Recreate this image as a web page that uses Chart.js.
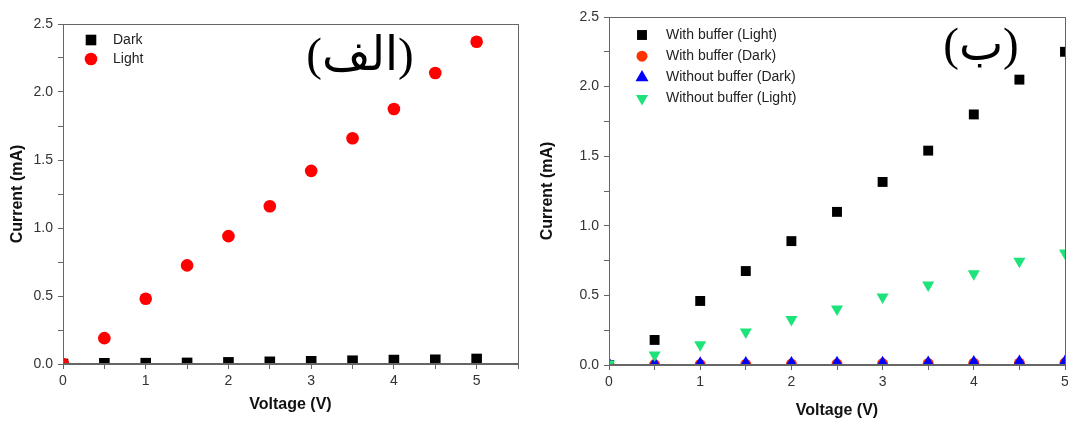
<!DOCTYPE html>
<html>
<head>
<meta charset="utf-8">
<title>Current vs voltage</title>
<script src="https://cdn.jsdelivr.net/npm/chart.js@4.4.1/dist/chart.umd.min.js"></script>
<style>
  html, body { margin: 0; padding: 0; background: #fff; }
  .panel { position: absolute; top: 0; }
  #panel-a { left: 0; }
  #panel-b { left: 530px; }
</style>
</head>
<body>
<div class="panel" id="panel-a"><canvas id="chart-a" width="530" height="421"></canvas></div>
<div class="panel" id="panel-b"><canvas id="chart-b" width="538" height="421"></canvas></div>
<script>
(function () {
  "use strict";

  /* ── Data ──────────────────────────────────── */

  var VOLTAGE = [0, 0.5, 1, 1.5, 2, 2.5, 3, 3.5, 4, 4.5, 5];

  // panel (الف)
  var DARK  = [0, 0.005, 0.006, 0.008, 0.012, 0.016, 0.02, 0.024, 0.029, 0.031, 0.037];
  var LIGHT = [0, 0.19, 0.48, 0.725, 0.94, 1.16, 1.42, 1.66, 1.875, 2.14, 2.37];

  // panel (ب)
  var BUF_LIGHT   = [0, 0.18, 0.46, 0.675, 0.89, 1.10, 1.315, 1.54, 1.80, 2.05, 2.25];
  var BUF_DARK    = [0.001, 0.003, 0.004, 0.005, 0.007, 0.008, 0.01, 0.011, 0.013, 0.014, 0.016];
  var NOBUF_DARK  = [0.004, 0.008, 0.009, 0.01, 0.011, 0.012, 0.013, 0.015, 0.018, 0.021, 0.022];
  var NOBUF_LIGHT = [0.008, 0.072, 0.146, 0.237, 0.326, 0.402, 0.489, 0.575, 0.656, 0.745, 0.805];

  var X_TICK_LABELS = ["0", "1", "2", "3", "4", "5"];
  var Y_TICK_LABELS = ["0.0", "0.5", "1.0", "1.5", "2.0", "2.5"];

  var FONT = "'Liberation Sans', Arial, sans-serif";
  var TAG_FONT = "'Liberation Serif', 'DejaVu Sans', serif";
  var AXIS_COLOR = "#666";

  /* ── Helpers ───────────────────────────────── */

  function pts(ys) {
    return VOLTAGE.map(function (v, i) { return { x: v, y: ys[i] }; });
  }

  function series(label, ys, style, color, radius, rotation) {
    return {
      label: label,
      data: pts(ys),
      showLine: false,
      pointStyle: style,
      pointRadius: radius,
      pointRotation: rotation || 0,
      pointBackgroundColor: color,
      pointBorderWidth: 0,
      backgroundColor: color,
      borderColor: color,
      clip: 0
    };
  }

  // later series paint over earlier ones
  function stackOrder(list) {
    list.forEach(function (ds, i) { ds.order = list.length - i; });
    return list;
  }

  // labels only on the major steps, minor steps keep an empty tick
  function majorLabel(labels, step) {
    return function (v) {
      var k = v / step, i = Math.round(k);
      return Math.abs(k - i) < 1e-6 && labels[i] !== undefined ? labels[i] : "";
    };
  }

  function axis(opts) {
    var horizontal = opts.horizontal;
    return {
      type: "linear",
      min: opts.min,
      max: opts.max,
      ticks: {
        stepSize: opts.step,
        autoSkip: false,
        maxRotation: 0,
        padding: horizontal ? 4 : 5,
        color: "#333",
        font: { size: 14, family: FONT },
        callback: majorLabel(opts.labels, opts.labelStep)
      },
      grid: {
        display: true,
        drawOnChartArea: false,
        drawTicks: true,
        tickLength: 5,
        tickColor: AXIS_COLOR,
        tickWidth: 1
      },
      border: { display: true, color: AXIS_COLOR, width: 1 },
      title: {
        display: true,
        text: opts.title,
        color: "#111",
        font: { size: 16, weight: "bold", family: FONT },
        padding: opts.titlePad
      },
      afterFit: function (scale) {
        if (horizontal) {
          scale.height = opts.size;
          scale.paddingLeft = 0;
          scale.paddingRight = 0;
        } else {
          scale.width = opts.size;
          scale.paddingTop = 0;
          scale.paddingBottom = 0;
        }
      }
    };
  }

  /* ── Plugins ───────────────────────────────── */

  // full box round the plot area
  var frame = {
    id: "frame",
    afterDatasetsDraw: function (chart) {
      var a = chart.chartArea, ctx = chart.ctx;
      ctx.save();
      ctx.strokeStyle = AXIS_COLOR;
      ctx.lineWidth = 1;
      ctx.strokeRect(Math.round(a.left) + 0.5, Math.round(a.top) + 0.5,
        Math.round(a.right - a.left), Math.round(a.bottom - a.top) - 1);
      ctx.restore();
    }
  };

  // legend drawn inside the plot, top left
  var insideLegend = {
    id: "insideLegend",
    afterDraw: function (chart, args, o) {
      var ctx = chart.ctx;
      ctx.save();
      ctx.font = o.font;
      ctx.textBaseline = "middle";
      ctx.textAlign = "left";
      chart.data.datasets.forEach(function (ds, i) {
        var y = o.y + i * o.rowHeight;
        ctx.fillStyle = ds.pointBackgroundColor;
        Chart.helpers.drawPoint(ctx, {
          pointStyle: ds.pointStyle,
          radius: ds.pointRadius,
          rotation: ds.pointRotation,
          borderWidth: 0
        }, o.x, y);
        ctx.fillStyle = o.color;
        ctx.fillText(ds.label, o.x + o.textOffset, y);
      });
      ctx.restore();
    }
  };

  // panel letter
  var panelTag = {
    id: "panelTag",
    afterDraw: function (chart, args, o) {
      var ctx = chart.ctx;
      ctx.save();
      ctx.font = o.font;
      ctx.fillStyle = "#000";
      ctx.textAlign = "center";
      ctx.textBaseline = "middle";
      ctx.fillText(o.text, o.x, o.y);
      ctx.restore();
    }
  };

  function makeChart(id, datasets, cfg) {
    return new Chart(document.getElementById(id), {
      type: "scatter",
      data: { datasets: stackOrder(datasets) },
      options: {
        responsive: false,
        animation: false,
        events: [],
        layout: { padding: cfg.padding, autoPadding: false },
        scales: {
          x: axis({
            horizontal: true, min: 0, max: cfg.xMax, step: 0.5,
            labels: X_TICK_LABELS, labelStep: 1,
            title: "Voltage (V)", titlePad: { bottom: cfg.xTitlePad }, size: cfg.xSize
          }),
          y: axis({
            horizontal: false, min: 0, max: 2.5, step: 0.25,
            labels: Y_TICK_LABELS, labelStep: 0.5,
            title: "Current (mA)", titlePad: { top: 8 }, size: cfg.ySize
          })
        },
        plugins: {
          legend: { display: false },
          tooltip: { enabled: false },
          insideLegend: cfg.legend,
          panelTag: cfg.tag
        }
      },
      plugins: [frame, insideLegend, panelTag]
    });
  }

  /* ── Panels ────────────────────────────────── */

  makeChart("chart-a", [
    series("Dark", DARK, "rect", "#000000", 7.5),
    series("Light", LIGHT, "circle", "#ff0000", 6.3)
  ], {
    padding: { left: 0, top: 24, right: 12, bottom: 0 },
    xMax: 5.5, xSize: 57, ySize: 63, xTitlePad: 7,
    legend: { x: 91, y: 40, rowHeight: 19, textOffset: 22, font: "14px " + FONT, color: "#222" },
    tag: { text: "(الف)", x: 360, y: 58, font: "47px " + TAG_FONT }
  });

  makeChart("chart-b", [
    series("With buffer (Light)", BUF_LIGHT, "rect", "#000000", 7),
    series("With buffer (Dark)", BUF_DARK, "circle", "#ff3300", 5.5),
    series("Without buffer (Dark)", NOBUF_DARK, "triangle", "#0000ff", 7.5),
    series("Without buffer (Light)", NOBUF_LIGHT, "triangle", "#1ee37a", 7, 180)
  ], {
    padding: { left: 0, top: 17, right: 3, bottom: 0 },
    xMax: 5, xSize: 56, ySize: 79, xTitlePad: 1,
    legend: { x: 112, y: 35, rowHeight: 21.2, textOffset: 24, font: "14px " + FONT, color: "#222" },
    tag: { text: "(ب)", x: 451, y: 48, font: "47px " + TAG_FONT }
  });
})();
</script>
</body>
</html>
